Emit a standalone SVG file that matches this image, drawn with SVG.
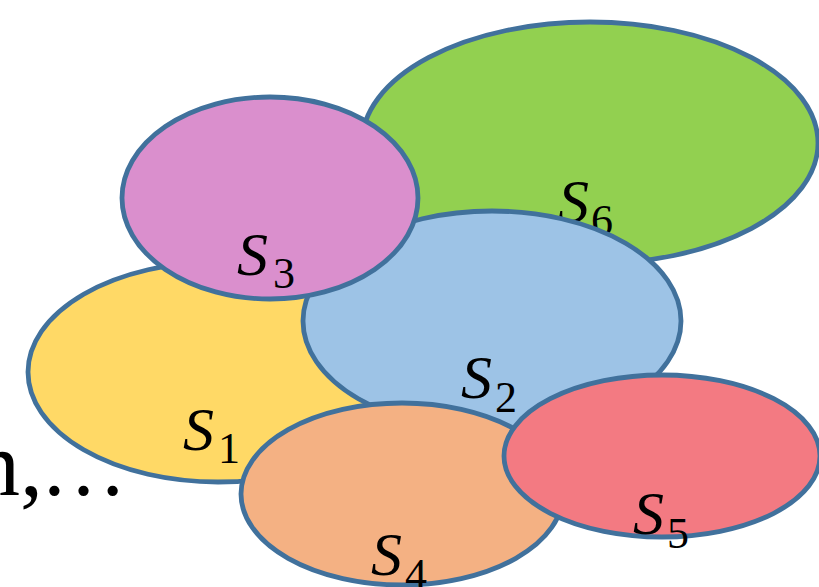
<svg xmlns="http://www.w3.org/2000/svg" width="819" height="587" viewBox="0 0 819 587">
<style>
.set{stroke:#41719C;stroke-width:4.8}
.s{font-family:"Liberation Serif",serif;font-style:italic;font-size:62px;fill:#000}
.d{font-family:"Liberation Serif",serif;font-size:44px;fill:#000}
.t{font-family:"Liberation Serif",serif;font-size:92px;fill:#000}
</style>
<rect width="819" height="587" fill="#fff"/>
<g id="text-n"><text class="t" x="-26" y="495">n,</text><text class="t" x="40" y="495" style="font-size:87px">…</text></g>
<g id="S6"><ellipse class="set" cx="590" cy="143" rx="228" ry="121" fill="#92D050"/><text class="s" x="558" y="222">S</text><text class="d" x="591" y="235">6</text></g>
<g id="S1"><ellipse class="set" cx="218" cy="372" rx="190" ry="110" fill="#FFD966"/><text class="s" x="183" y="450">S</text><text class="d" x="218" y="463">1</text></g>
<g id="S2"><ellipse class="set" cx="492" cy="321" rx="189" ry="110" fill="#9DC3E6"/><text class="s" x="461" y="398">S</text><text class="d" x="495" y="412">2</text></g>
<g id="S3"><ellipse class="set" cx="270" cy="198" rx="148" ry="101" fill="#DA8FCD"/><text class="s" x="237" y="275">S</text><text class="d" x="273" y="288">3</text></g>
<g id="S4"><ellipse class="set" cx="402" cy="494" rx="161" ry="91" fill="#F4B183"/><text class="s" x="371" y="575">S</text><text class="d" x="405" y="589">4</text></g>
<g id="S5"><ellipse class="set" cx="662" cy="456" rx="158" ry="81" fill="#F37A82"/><text class="s" x="633" y="534">S</text><text class="d" x="667" y="548">5</text></g>
<g id="connectors"/>
</svg>
